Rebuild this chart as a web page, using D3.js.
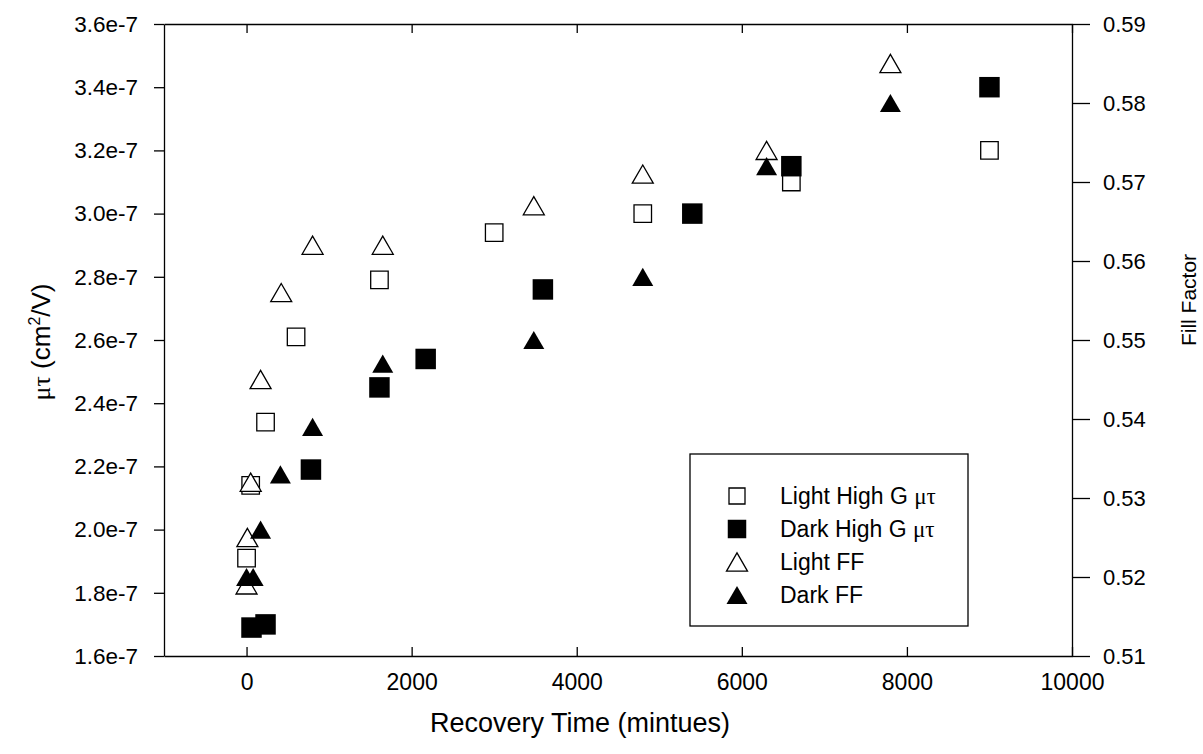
<!DOCTYPE html>
<html>
<head>
<meta charset="utf-8">
<script src="https://cdn.jsdelivr.net/npm/d3@7"></script>
<style>
  body { margin: 0; background: #fff; }
  svg text { font-family: "Liberation Sans", Arial, sans-serif; fill: #000; }
</style>
</head>
<body>
<div id="chart"></div>
<script>
// data
const lightMuTime = [0, 50, 230, 600, 1610, 3000, 4800, 6600, 9000]
const lightMu = [1.91e-7, 2.14e-7, 2.34e-7, 2.61e-7, 2.79e-7, 2.94e-7, 3.00e-7, 3.10e-7, 3.20e-7]
const darkMuTime = [60, 230, 780, 1610, 2170, 3590, 5400, 6600, 9000]
const darkMu = [1.69e-7, 1.70e-7, 2.19e-7, 2.45e-7, 2.54e-7, 2.76e-7, 3.00e-7, 3.15e-7, 3.40e-7]
const lightFFTime = [0, 10, 50, 170, 420, 800, 1650, 3480, 4800, 6300, 7800]
const lightFF = [0.519, 0.525, 0.532, 0.545, 0.556, 0.562, 0.562, 0.567, 0.571, 0.574, 0.585]
const darkFFTime = [0, 80, 170, 410, 800, 1650, 3480, 4800, 6300, 7800]
const darkFF = [0.520, 0.520, 0.526, 0.533, 0.539, 0.547, 0.550, 0.558, 0.572, 0.580]

const xTicks = [0, 2000, 4000, 6000, 8000, 10000]
const yLeftTicks = [1.6e-7, 1.8e-7, 2.0e-7, 2.2e-7, 2.4e-7, 2.6e-7, 2.8e-7, 3.0e-7, 3.2e-7, 3.4e-7, 3.6e-7]
const yRightTicks = [0.51, 0.52, 0.53, 0.54, 0.55, 0.56, 0.57, 0.58, 0.59]
const legendLabels = ["Light High G ", "Dark High G ", "Light FF", "Dark FF"]

let dimensions = {
    width: 1203,
    height: 754,
    left: 164,
    right: 1072,
    top: 24,
    bottom: 656,
}

const svg = d3.select('#chart')
    .append("svg")
    .attr("width", dimensions.width)
    .attr("height", dimensions.height)

const x = d3.scaleLinear().domain([-1000, 10000]).range([dimensions.left, dimensions.right])
const yL = d3.scaleLinear().domain([1.6e-7, 3.6e-7]).range([dimensions.bottom, dimensions.top])
const yR = d3.scaleLinear().domain([0.51, 0.59]).range([dimensions.bottom, dimensions.top])

// axes
const xAxis = svg.append("g")
    .attr("transform", `translate(0,${dimensions.bottom})`)
    .call(d3.axisBottom(x).tickValues(xTicks).tickSizeInner(-9).tickSizeOuter(0).tickPadding(18).tickFormat(d3.format("d")))
xAxis.selectAll("text").style("font-size", "23px")

svg.append("g")
    .attr("transform", `translate(0,${dimensions.top})`)
    .call(d3.axisTop(x).tickValues(xTicks).tickSizeInner(-9).tickSizeOuter(0).tickFormat(""))

const yAxisL = svg.append("g")
    .attr("transform", `translate(${dimensions.left},0)`)
    .call(d3.axisLeft(yL).tickValues(yLeftTicks).tickSizeInner(10).tickSizeOuter(0).tickPadding(16).tickFormat(d3.format(".1e")))
yAxisL.selectAll("text").style("font-size", "22.5px")

const yAxisR = svg.append("g")
    .attr("transform", `translate(${dimensions.right},0)`)
    .call(d3.axisRight(yR).tickValues(yRightTicks).tickSizeInner(18).tickSizeOuter(0).tickPadding(13).tickFormat(d3.format(".2f")))
yAxisR.selectAll("text").style("font-size", "22px")

svg.selectAll(".domain").attr("stroke", "#000").attr("stroke-width", 1.3)
svg.selectAll(".tick line").attr("stroke", "#000").attr("stroke-width", 1.3)

// axis titles
svg.append("text")
    .attr("x", 580)
    .attr("y", 732)
    .attr("text-anchor", "middle")
    .style("font-size", "27px")
    .text("Recovery Time (mintues)")

const yTitle = svg.append("text")
    .attr("transform", "translate(50,342) rotate(-90)")
    .attr("text-anchor", "middle")
    .style("font-size", "26px")
yTitle.append("tspan").style("font-family", "'Liberation Serif', serif").text("μτ")
yTitle.append("tspan").text(" (cm")
yTitle.append("tspan").attr("dy", -10).style("font-size", "16px").text("2")
yTitle.append("tspan").attr("dy", 10).text("/V)")

svg.append("text")
    .attr("transform", "translate(1196,300) rotate(-90)")
    .attr("text-anchor", "middle")
    .style("font-size", "21px")
    .text("Fill Factor")

// markers
const sq = 17.5, sqF = 20.5, tri = 21
const triH = tri * Math.sqrt(3) / 2
const square = d3.symbol().type(d3.symbolSquare)
const triangle = d3.symbol().type(d3.symbolTriangle).size(Math.sqrt(3) / 4 * tri * tri)

function drawSquares(times, vals, filled) {
    svg.append("g").selectAll("path")
        .data(times)
        .join("path")
        .attr("d", square.size(filled ? sqF * sqF : sq * sq)())
        .attr("transform", (d, i) => `translate(${x(d)},${yL(vals[i])})`)
        .attr("fill", filled ? "#000" : "#fff")
        .attr("stroke", "#000")
        .attr("stroke-width", filled ? 0 : 1.3)
}

function drawTriangles(times, vals, filled) {
    svg.append("g").selectAll("path")
        .data(times)
        .join("path")
        .attr("d", triangle())
        .attr("transform", (d, i) => `translate(${x(d)},${yR(vals[i]) + triH / 6})`)
        .attr("fill", filled ? "#000" : "#fff")
        .attr("stroke", "#000")
        .attr("stroke-width", filled ? 0 : 1.3)
}

drawSquares(lightMuTime, lightMu, false)
drawSquares(darkMuTime, darkMu, true)
drawTriangles(lightFFTime, lightFF, false)
drawTriangles(darkFFTime, darkFF, true)

// legend
const legend = svg.append("g")
legend.append("rect")
    .attr("x", 690).attr("y", 454)
    .attr("width", 278).attr("height", 172)
    .attr("fill", "#fff")
    .attr("stroke", "#000")
    .attr("stroke-width", 1.3)

legendLabels.forEach((lab, i) => {
    const cy = 496 + i * 33
    const isSq = i < 2
    const filled = i % 2 === 1
    legend.append("path")
        .attr("d", isSq ? square.size(filled ? 18.5 * 18.5 : 16 * 16)() : triangle())
        .attr("transform", `translate(737,${cy + (isSq ? 0 : triH / 6)})`)
        .attr("fill", filled ? "#000" : "#fff")
        .attr("stroke", "#000")
        .attr("stroke-width", filled ? 0 : 1.3)
    const t = legend.append("text")
        .attr("x", 780)
        .attr("y", cy + 8)
        .style("font-size", "23px")
        .text(lab)
    if (isSq) t.append("tspan").style("font-family", "'Liberation Serif', serif").text("μτ")
})
</script>
</body>
</html>
